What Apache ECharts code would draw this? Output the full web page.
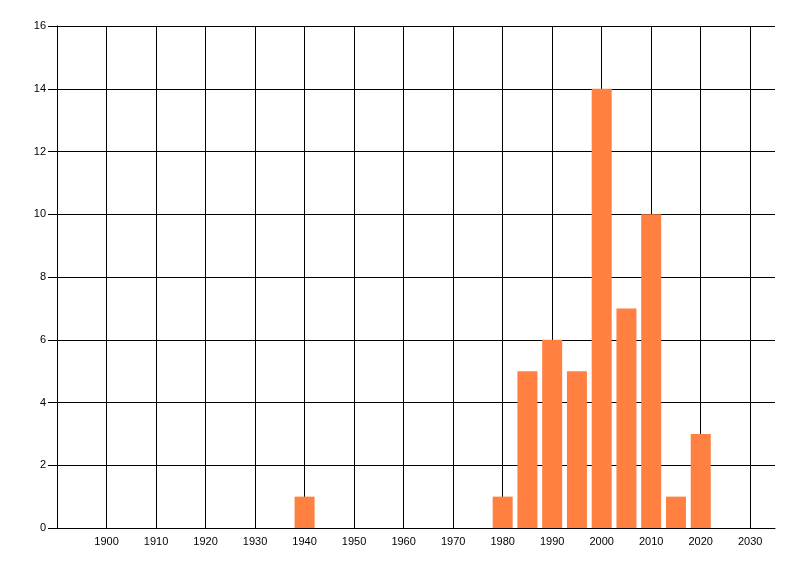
<!DOCTYPE html>
<html>
<head>
<meta charset="utf-8">
<script src="https://cdn.jsdelivr.net/npm/echarts@6/dist/echarts.min.js"></script>
<style>
    html, body { margin: 0; padding: 0; background: #fff; }
    #chart { width: 800px; height: 576px; }
</style>
</head>
<body>
<div id="chart"></div>
<script>
// years where there are counts, and the counts
var years = [1940, 1980, 1985, 1990, 1995, 2000, 2005, 2010, 2015, 2020];
var counts = [1, 1, 5, 6, 5, 14, 7, 10, 1, 3];

var xMin = 1890, xMax = 2035, xStep = 10;
var yMin = 0, yMax = 16, yStep = 2;

// one colour per split line, the last one (at xMax) is hidden
var xLineColors = [];
for (var i = xMin; i <= xMax; i += xStep) {
    xLineColors.push("#000");
}
xLineColors.push("rgba(0,0,0,0)");

var pairs = [];
for (var i = 0; i < years.length; i++) {
    pairs.push([years[i], counts[i]]);
}

var myChart = echarts.init(document.getElementById("chart"));
myChart.setOption({
    animation: false,
    backgroundColor: "#fff",
    textStyle: { fontFamily: "Liberation Sans", fontSize: 11, color: "#000" },
    grid: { left: 57, right: 25, top: 26, bottom: 48, containLabel: false },
    xAxis: {
        type: "value",
        min: xMin,
        max: xMax,
        interval: xStep,
        axisLine: { show: true, onZero: false, lineStyle: { color: "#000", width: 1 } },
        axisTick: { show: false },
        axisLabel: {
            color: "#000",
            fontSize: 11,
            margin: 8,
            showMinLabel: false,
            showMaxLabel: false,
            formatter: function (v) { return String(v); }
        },
        splitLine: { show: true, lineStyle: { color: xLineColors, width: 1 } }
    },
    yAxis: {
        type: "value",
        min: yMin,
        max: yMax,
        interval: yStep,
        axisLine: { show: true, lineStyle: { color: "#000", width: 1 } },
        axisTick: { show: true, length: 9, lineStyle: { color: "#000", width: 1 } },
        axisLabel: { color: "#000", fontSize: 11, margin: 11 },
        splitLine: { show: true, lineStyle: { color: "#000", width: 1 } }
    },
    series: [{
        type: "bar",
        data: pairs,
        barWidth: 20,
        itemStyle: { color: "#FF8040" }
    }]
});
</script>
</body>
</html>
